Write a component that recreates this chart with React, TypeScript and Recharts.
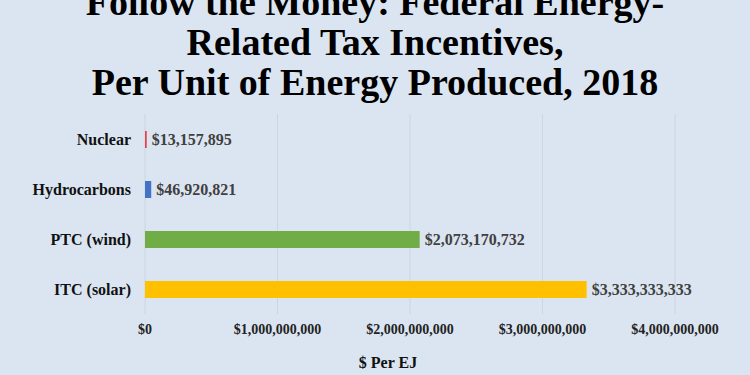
import { Bar, BarChart, CartesianGrid, Cell, LabelList, XAxis, YAxis } from 'recharts'

const categories = ['Nuclear', 'Hydrocarbons', 'PTC (wind)', 'ITC (solar)']
const perEj = [13157895, 46920821, 2073170732, 3333333333]
const barColors = ['#e8414a', '#4472c4', '#70ad47', '#ffc000']
const xTicks = [0, 1000000000, 2000000000, 3000000000, 4000000000]
const titleLines = ['Follow the Money: Federal Energy-', 'Related Tax Incentives,', 'Per Unit of Energy Produced, 2018']

const serif = '"Liberation Serif", "Times New Roman", serif'
const bg = '#dbe5f1'

const money = (v: number) => '$' + Math.round(v).toLocaleString('en-US')

export default function App() {
  const data = categories.map((name, i) => ({ name, value: perEj[i] }))

  return (
    <div
      style={{
        position: 'absolute',
        left: 0,
        top: 0,
        width: 750,
        height: 375,
        background: bg,
        overflow: 'hidden',
        fontFamily: serif,
      }}
    >
      <div
        style={{
          position: 'absolute',
          left: 0,
          top: -18,
          width: 750,
          textAlign: 'center',
          fontWeight: 'bold',
          fontSize: 38,
          lineHeight: '40px',
          color: '#000',
        }}
      >
        {titleLines.map((t) => (
          <div key={t}>{t}</div>
        ))}
      </div>
      <BarChart
        width={750}
        height={375}
        data={data}
        layout="vertical"
        margin={{ top: 114, right: 75, bottom: 31, left: 0 }}
        barSize={17}
      >
        <CartesianGrid horizontal={false} stroke="#ccd6e3" />
        <XAxis
          type="number"
          domain={[0, 4000000000]}
          ticks={xTicks}
          tickFormatter={money}
          axisLine={false}
          tickLine={false}
          tickSize={0}
          tickMargin={10}
          height={30}
          interval={0}
          tick={{ fill: '#222', fontSize: 14, fontWeight: 'bold', fontFamily: serif }}
        />
        <YAxis
          type="category"
          dataKey="name"
          width={145}
          axisLine={false}
          tickLine={false}
          tickSize={0}
          tickMargin={14}
          tick={{ fill: '#111', fontSize: 16, fontWeight: 'bold', fontFamily: serif }}
        />
        <Bar dataKey="value" isAnimationActive={false}>
          {data.map((d, i) => (
            <Cell key={d.name} fill={barColors[i]} />
          ))}
          <LabelList
            dataKey="value"
            position="right"
            offset={5}
            formatter={(v: any) => money(Number(v))}
            style={{ fill: '#404040', fontSize: 16, fontWeight: 'bold', fontFamily: serif }}
          />
        </Bar>
      </BarChart>
      <div
        style={{
          position: 'absolute',
          left: 338,
          width: 100,
          top: 354,
          textAlign: 'center',
          fontWeight: 'bold',
          fontSize: 16,
          color: '#111',
        }}
      >
        $ Per EJ
      </div>
    </div>
  )
}
